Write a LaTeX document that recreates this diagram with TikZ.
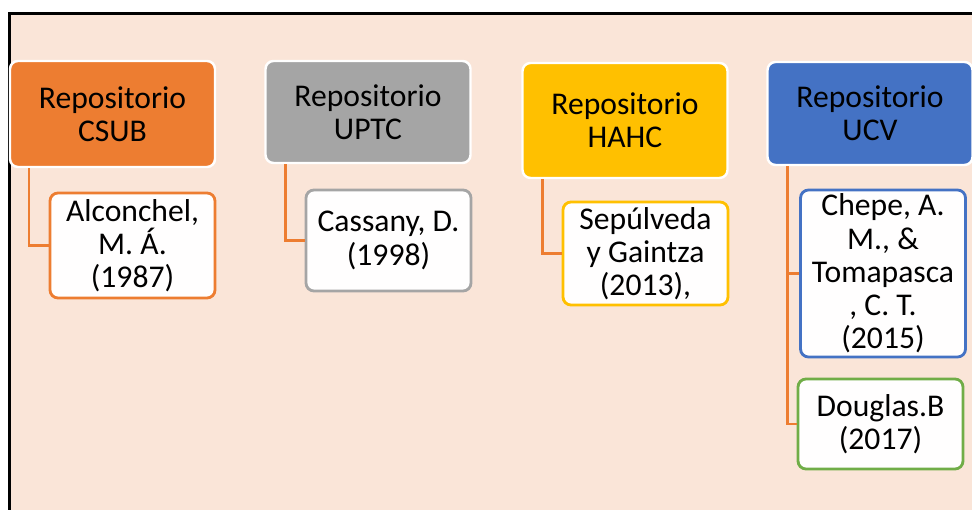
\documentclass[tikz,border=0pt]{standalone}
\usepackage{xcolor}
\usepackage{fontspec}
\setmainfont{Carlito}
\usepackage{tikz}

\definecolor{peach}{RGB}{250,229,216}
\definecolor{csubc}{RGB}{237,125,49}
\definecolor{uptcc}{RGB}{165,165,165}
\definecolor{hahcc}{RGB}{255,192,0}
\definecolor{ucvc}{RGB}{68,114,196}
\definecolor{dougc}{RGB}{112,173,71}

\begin{document}
\begin{tikzpicture}[
    repo/.style={draw=white, line width=1.4pt, rounded corners=0.16cm, align=center,
        minimum width=4.1cm, minimum height=2.1cm, inner sep=0pt,
        font=\fontsize{18}{18.9}\selectfont},
    cite/.style={fill=white!98!peach, line width=1.6pt, rounded corners=0.16cm, align=center,
        minimum width=3.3cm, inner sep=0pt, font=\fontsize{18}{18.9}\selectfont},
    link/.style={draw=csubc, line width=1.4pt}
]
    \useasboundingbox (0, 0) rectangle (19.44, 10.2);
    \fill[peach] (0.2, 0) rectangle (19.44, 9.92);
    \draw[line width=1.2pt] (0.19, 0) |- (19.44, 9.93);

    \node[repo, fill=csubc, minimum height=2.12cm] (csub) at (2.25, 7.92) {Repositorio\\CSUB};
    \node[repo, fill=uptcc, minimum height=2.04cm] (uptc) at (7.36, 7.96) {Repositorio\\UPTC};
    \node[repo, fill=hahcc, minimum height=2.3cm] (hahc) at (12.5, 7.79) {Repositorio\\HAHC};
    \node[repo, fill=ucvc, minimum height=2.06cm] (ucv) at (17.4, 7.93) {Repositorio\\UCV};

    \node[cite, draw=csubc, minimum height=2.1cm] (alc) at (2.65, 5.29) {Alconchel,\\M. Á.\\(1987)};
    \node[cite, draw=uptcc, minimum height=2.02cm] (cas) at (7.77, 5.39) {Cassany, D.\\(1998)};
    \node[cite, draw=hahcc, minimum height=2.06cm] (sep) at (12.91, 5.13) {Sepúlveda\\y Gaintza\\(2013),};
    \node[cite, draw=ucvc, minimum height=3.34cm] (chep) at (17.66, 4.73) {Chepe, A.\\M., \&\\Tomapasca\\, C. T.\\(2015)};
    \node[cite, draw=dougc, minimum height=1.8cm] (doug) at (17.61, 1.72) {Douglas.B\\(2017)};

    \draw[link] ([xshift=0.4cm]csub.south west) |- (alc.west);
    \draw[link] ([xshift=0.42cm]uptc.south west) |- (cas.west);
    \draw[link] ([xshift=0.42cm]hahc.south west) |- (sep.west);
    \draw[link] ([xshift=0.42cm]ucv.south west) |- (chep.west);
    \draw[link] ([xshift=0.42cm]ucv.south west) |- (doug.west);
\end{tikzpicture}
\end{document}
